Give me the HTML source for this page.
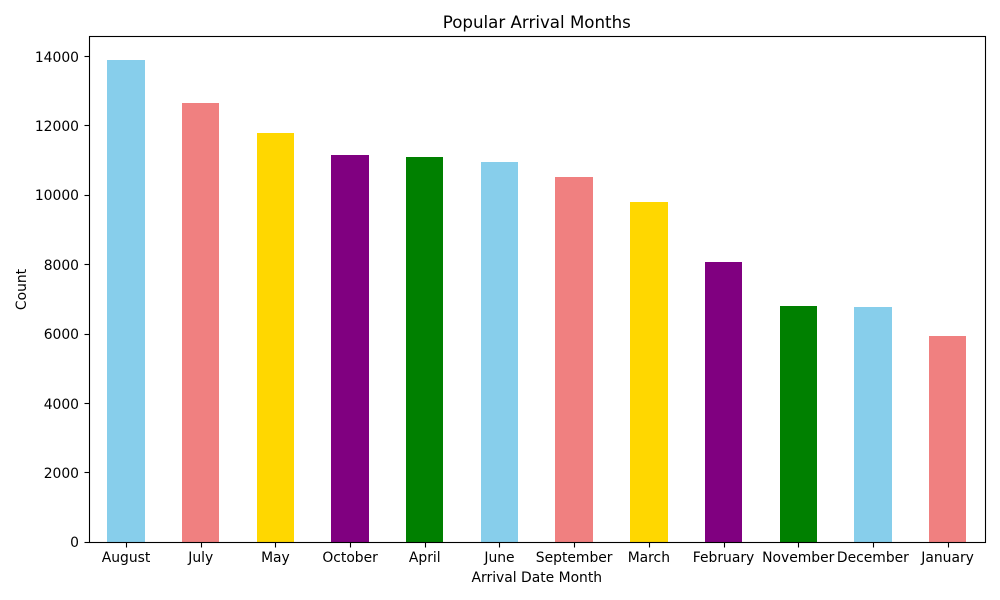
<!DOCTYPE html>
<html lang="en">
<head>
<meta charset="utf-8">
<title>Popular Arrival Months</title>
<style>
html,body{margin:0;padding:0;background:#fff;}
svg{display:block;}
text{font-family:"DejaVu Sans",sans-serif;fill:#000;}
</style>
</head>
<body>
<svg id="chart" xmlns="http://www.w3.org/2000/svg" width="1000" height="600" viewBox="0 0 1000 600"></svg>
<script>
const categories = ["August","July","May","October","April","June","September","March","February","November","December","January"];
const counts = [13877,12661,11791,11160,11089,10939,10508,9794,8068,6794,6780,5929];
const yTicks = [0,2000,4000,6000,8000,10000,12000,14000];
const palette = ["#87ceeb","#f08080","#ffd700","#800080","#008000"];

const NS = "http://www.w3.org/2000/svg";
const svg = document.getElementById("chart");
const plot = {left:88.69, right:984.94, top:36.3, bottom:541.8};
const yMax = Math.max(...counts) * 1.05;

function xScale(i){
  return plot.left + (i + 0.5) * (plot.right - plot.left) / categories.length;
}
function yScale(v){
  return plot.bottom - v / yMax * (plot.bottom - plot.top);
}
function snapFill(p){
  return Math.floor(p + 0.5);
}
function snapLine(p){
  return Math.floor(p + 0.5) + 0.5;
}
function make(tag, attrs, text){
  const el = document.createElementNS(NS, tag);
  for (const k in attrs) el.setAttribute(k, attrs[k]);
  if (text !== undefined) el.textContent = text;
  svg.appendChild(el);
  return el;
}

const bg = make("rect",{x:0,y:0,width:1000,height:600,fill:"#fff"});



const bandW = (plot.right - plot.left) / categories.length;
const axisBottom = snapLine(plot.bottom);
const axisTop = snapLine(plot.top);
const axisLeft = snapLine(plot.left);
const axisRight = snapLine(plot.right);

categories.forEach((c,i)=>{
  const x0 = snapFill(xScale(i)-bandW/4);
  const x1 = snapFill(xScale(i)+bandW/4);
  const top = snapFill(yScale(counts[i]));
  const bar = make("rect",{x:x0,y:top,width:x1-x0,height:snapFill(plot.bottom)-top,fill:palette[i%palette.length],"shape-rendering":"crispEdges"});
  
  

  const tx = snapLine(xScale(i));
  const tick = make("line",{x1:tx,x2:tx,y1:axisBottom,y2:axisBottom+5,stroke:"#000","stroke-width":1.1});
  
  

  const label = make("text",{x:xScale(i),y:562,"text-anchor":"middle","font-size":"13.89"},c);
  
  
});

yTicks.forEach(v=>{
  const y = yScale(v);
  const ty = snapLine(y);
  const tick = make("line",{x1:axisLeft-5,x2:axisLeft,y1:ty,y2:ty,stroke:"#000","stroke-width":1.1});
  
  

  const label = make("text",{x:79,y:Math.round(y+5.5),"text-anchor":"end","font-size":"13.89"},String(v));
  
  
});

const frame = make("rect",{x:axisLeft,y:axisTop,width:axisRight-axisLeft,height:axisBottom-axisTop,fill:"none",stroke:"#000","stroke-width":1.1});



const title = make("text",{x:(plot.left+plot.right)/2,y:28,"text-anchor":"middle","font-size":"16.67"},"Popular Arrival Months");



const xTitle = make("text",{x:(plot.left+plot.right)/2,y:582,"text-anchor":"middle","font-size":"13.89"},"Arrival Date Month");



const yTitle = make("text",{x:0,y:0,"text-anchor":"middle","font-size":"13.89",transform:"translate(26,289.5) rotate(-90)"},"Count");


</script>
</body>
</html>
